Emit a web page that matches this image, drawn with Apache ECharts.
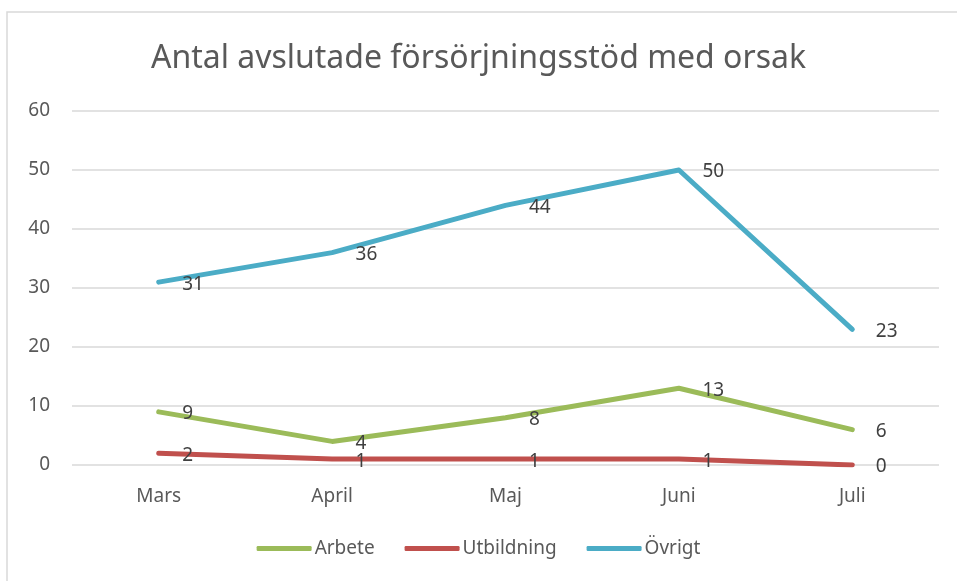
<!DOCTYPE html>
<html>
<head>
<meta charset="utf-8">
<style>
    html, body { margin: 0; padding: 0; background: #fff; }
    #chart { width: 957px; height: 581px; }
</style>
<script src="https://cdn.jsdelivr.net/npm/echarts@6/dist/echarts.min.js"></script>
</head>
<body>
<div id="chart"></div>
<script>
    // data
    const months = ['Mars', 'April', 'Maj', 'Juni', 'Juli'];
    const arbete = [9, 4, 8, 13, 6];
    const utbildning = [2, 1, 1, 1, 0];
    const ovrigt = [31, 36, 44, 50, 23];
    const yTicks = { min: 0, max: 60, interval: 10 };

    const font = 'Noto Sans';
    const chart = echarts.init(document.getElementById('chart'));

    function lineSeries(name, data, color) {
        return {
            name: name,
            type: 'line',
            data: data,
            symbol: 'circle',
            symbolSize: 1,
            lineStyle: { color: color, width: 5, cap: 'round', join: 'round' },
            itemStyle: { color: color },
            label: {
                show: true,
                position: 'right',
                distance: 23,
                offset: [0, 2],
                color: '#404040',
                fontFamily: font,
                fontSize: 19,
            },
            animation: false,
        };
    }

    chart.setOption({
        backgroundColor: '#fff',
        title: {
            text: 'Antal avslutade försörjningsstöd med orsak',
            left: 'center',
            top: 38,
            textStyle: {
                color: '#595959',
                fontFamily: font,
                fontSize: 32,
                fontWeight: 'normal',
            },
        },
        graphic: [
            {
                type: 'rect',
                shape: { x: 7, y: 12, width: 960, height: 580 },
                style: { fill: 'none', stroke: '#d9d9d9', lineWidth: 1.5 },
                silent: true,
            },
        ],
        grid: {
            left: 72,
            right: 18,
            top: 111,
            bottom: 116,
        },
        legend: {
            bottom: 18,
            left: 'center',
            icon: 'roundRect',
            itemWidth: 55,
            itemHeight: 5,
            itemGap: 30,
            textStyle: { color: '#595959', fontFamily: font, fontSize: 19, padding: [0, 0, 0, -2] },
            data: ['Arbete', 'Utbildning', 'Övrigt'],
        },
        xAxis: {
            type: 'category',
            data: months,
            boundaryGap: true,
            axisLine: { show: false },
            axisTick: { show: false },
            axisLabel: {
                color: '#595959',
                fontFamily: font,
                fontSize: 19,
                margin: 22,
            },
        },
        yAxis: {
            type: 'value',
            min: yTicks.min,
            max: yTicks.max,
            interval: yTicks.interval,
            axisLine: { show: false },
            axisTick: { show: false },
            splitLine: { lineStyle: { color: '#d9d9d9', width: 1.5 } },
            axisLabel: {
                color: '#595959',
                fontFamily: font,
                fontSize: 19,
                margin: 22,
            },
        },
        series: [
            lineSeries('Arbete', arbete, '#9BBB59'),
            lineSeries('Utbildning', utbildning, '#C0504D'),
            lineSeries('Övrigt', ovrigt, '#4BACC6'),
        ],
    });
</script>
</body>
</html>
